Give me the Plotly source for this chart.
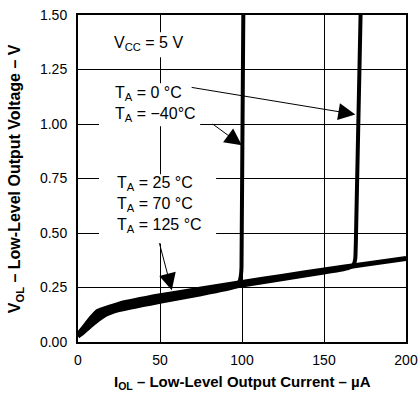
import plotly.graph_objects as go

# Output current (uA) sample points along the shared low-level region
current_ua = [0, 3, 8, 12, 16, 25, 50, 75, 100, 125, 150, 175, 200]

# V_OL (V) per ambient temperature
vol_125c = [0.040, 0.068, 0.115, 0.145, 0.156, 0.178, 0.216, 0.247, 0.277, 0.306, 0.335, 0.361, 0.387]
vol_70c = [0.036, 0.062, 0.105, 0.134, 0.147, 0.170, 0.208, 0.240, 0.271, 0.300, 0.330, 0.356, 0.383]
vol_25c = [0.032, 0.055, 0.095, 0.122, 0.139, 0.162, 0.200, 0.233, 0.265, 0.295, 0.325, 0.352, 0.379]

# 0 degC and -40 degC curves leave the band and rise steeply
current_0c = [0, 3, 8, 12, 16, 25, 50, 75, 100, 125, 150, 160, 165, 167.5, 168.6, 169.1, 169.4, 172.3]
vol_0c = [0.029, 0.048, 0.085, 0.110, 0.130, 0.154, 0.192, 0.226, 0.259, 0.289, 0.319, 0.331, 0.340, 0.350, 0.365, 0.385, 0.450, 1.50]

current_m40c = [0, 3, 8, 12, 16, 25, 50, 75, 95, 97.5, 98.8, 99.4, 99.7, 100.8]
vol_m40c = [0.025, 0.042, 0.075, 0.099, 0.121, 0.146, 0.184, 0.219, 0.251, 0.265, 0.285, 0.310, 0.345, 1.50]

x_ticks = [0, 50, 100, 150, 200]
y_ticks = [0.00, 0.25, 0.50, 0.75, 1.00, 1.25, 1.50]

FONT = "Liberation Sans, Arial, Helvetica, sans-serif"

fig = go.Figure()

band = [
    (current_ua, vol_125c, "T<sub>A</sub> = 125 °C", 3.2),
    (current_ua, vol_70c, "T<sub>A</sub> = 70 °C", 3.2),
    (current_ua, vol_25c, "T<sub>A</sub> = 25 °C", 3.2),
    (current_0c, vol_0c, "T<sub>A</sub> = 0 °C", 4),
    (current_m40c, vol_m40c, "T<sub>A</sub> = −40°C", 4),
]
for xs, ys, name, w in band:
    fig.add_trace(go.Scatter(
        x=xs, y=ys, mode="lines", name=name,
        line=dict(color="black", width=w, shape="spline", smoothing=0.4),
        showlegend=False, hoverinfo="skip",
    ))

# White boxes behind the in-plot labels (hide the grid under the text)
label_boxes = [
    (18.3, 68.4, 1.306, 1.421),
    (12.8, 74.5, 0.990, 1.187),
    (12.8, 84.2, 0.452, 0.770),
]
for x0, x1, y0, y1 in label_boxes:
    fig.add_shape(type="rect", xref="x", yref="y", x0=x0, x1=x1, y0=y0, y1=y1,
                  fillcolor="white", line=dict(width=0), layer="above")

text_font = dict(family=FONT, size=16, color="black")
fig.add_annotation(x=20.8, y=1.368, xref="x", yref="y", xanchor="left", yanchor="middle",
                   text="V<sub>CC</sub> = 5 V", showarrow=False, font=text_font)
fig.add_annotation(x=21.2, y=1.09, xref="x", yref="y", xanchor="left", yanchor="middle",
                   text="T<sub>A</sub> = 0 °C<br>T<sub>A</sub> = −40°C", showarrow=False,
                   font=text_font, align="left")
fig.add_annotation(x=22.5, y=0.63, xref="x", yref="y", xanchor="left", yanchor="middle",
                   text="T<sub>A</sub> = 25 °C<br>T<sub>A</sub> = 70 °C<br>T<sub>A</sub> = 125 °C",
                   showarrow=False, font=text_font, align="left")

# Leader arrows from the labels to the curves
arrows = [
    (68.4, 1.169, 169.1, 1.044),
    (81.2, 1.005, 99.9, 0.902),
    (49.4, 0.460, 57.2, 0.237),
]
for ax, ay, x, y in arrows:
    fig.add_annotation(x=x, y=y, ax=ax, ay=ay, xref="x", yref="y", axref="x", ayref="y",
                       text="", showarrow=True, arrowhead=2, arrowsize=3.4,
                       arrowwidth=1, arrowcolor="black", standoff=0, startstandoff=0)

# Axis titles
title_font = dict(family=FONT, size=15, color="black")
fig.add_annotation(x=0.5, y=-0.125, xref="paper", yref="paper", xanchor="center", yanchor="middle",
                   text="<b>I<sub>OL</sub> – Low-Level Output Current – µA</b>", showarrow=False,
                   font=title_font)
fig.add_annotation(x=-0.19, y=0.5, xref="paper", yref="paper", xanchor="center", yanchor="middle",
                   text="<b>V<sub>OL</sub> – Low-Level Output Voltage – V</b>", showarrow=False,
                   font=dict(family=FONT, size=16, color="black"), textangle=-90)

axis_common = dict(
    showgrid=True, gridcolor="black", gridwidth=1,
    showline=True, linecolor="black", linewidth=2, mirror=True,
    zeroline=False, ticks="", automargin=False,
    tickfont=dict(family=FONT, size=14, color="black"),
)
fig.update_xaxes(range=[0, 200], tickvals=x_ticks, ticktext=[str(v) for v in x_ticks],
                 ticklabelstandoff=4, **axis_common)
fig.update_yaxes(range=[0, 1.5], tickvals=y_ticks, ticktext=[f"{v:.2f}" for v in y_ticks],
                 ticklabelstandoff=6, **axis_common)

fig.update_layout(
    width=418, height=393,
    margin=dict(l=78, r=12, t=15, b=51),
    paper_bgcolor="white", plot_bgcolor="white",
    font=dict(family=FONT, color="black"),
)

fig.write_html("out.html")
